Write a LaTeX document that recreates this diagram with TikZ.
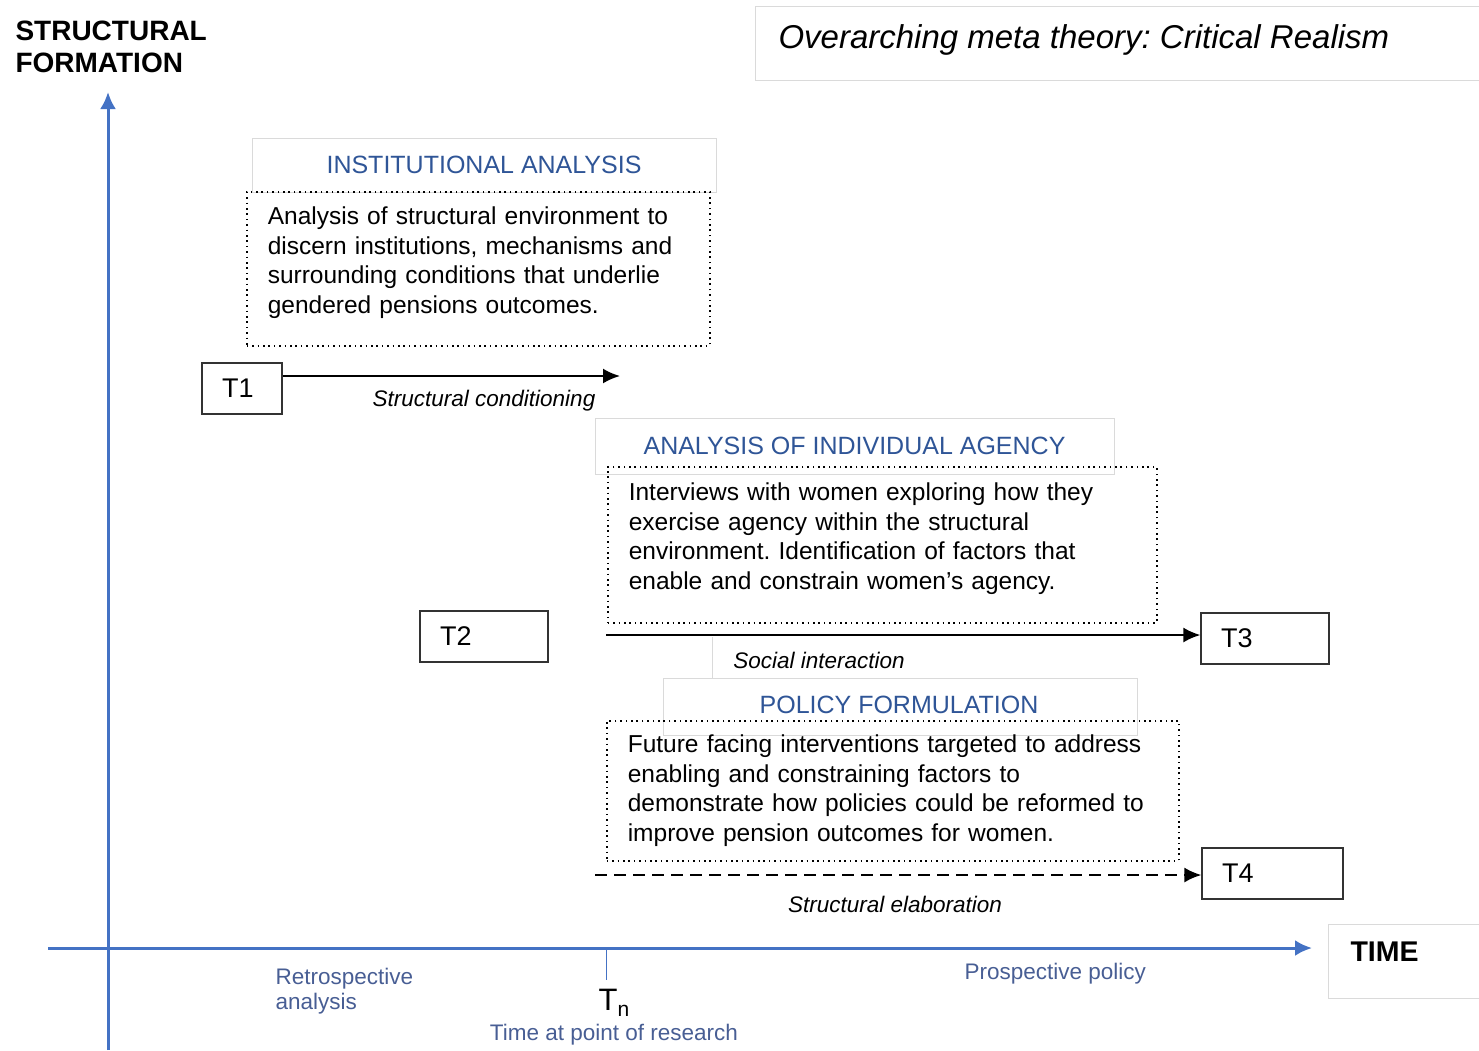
\documentclass[tikz,border=0pt]{standalone}
\usepackage{fontspec}
\setmainfont{Liberation Sans}
\usetikzlibrary{
  arrows.meta,
  positioning,
}
\tikzset{
  >={Latex[width=15pt,length=17pt]},
}
\definecolor{axisblue}{RGB}{68,114,196}
\definecolor{headblue}{RGB}{47,85,151}
\definecolor{noteblue}{RGB}{72,94,148}
\definecolor{faint}{RGB}{218,218,218}
\frenchspacing

\begin{document}
\begin{tikzpicture}[x=1pt, y=-1pt,
        headbox/.style={draw=faint, fill=white, text=headblue,
          font=\fontsize{25}{28}\selectfont},
        notebox/.style={draw, line width=1.6pt, dash pattern=on 1.6pt off 3.8pt,
          anchor=north west, align=left, inner xsep=21pt,
          font=\fontsize{24.5}{29.5}\selectfont},
        tbox/.style={draw=black!80, line width=1.2pt, align=left,
          inner xsep=20pt, minimum height=51pt, font=\fontsize{27}{30}\selectfont},
        lbl/.style={font=\fontsize{22.5}{26}\selectfont\itshape},
        flow/.style={->, line width=2.2pt},
        axis/.style={-{Latex[width=16pt,length=17pt]}, draw=axisblue, line width=3pt},
      ]
      \useasboundingbox (0,0) rectangle (1479,1050);

      \node[draw=faint, minimum width=760, minimum height=74, anchor=north west]
        (meta) at (755,6) {};
      \node[anchor=west, font=\fontsize{33}{38}\selectfont\itshape]
        (metatext) at (775,40) {Overarching meta theory: Critical Realism};

      \node[anchor=north west, align=left, font=\fontsize{28}{32}\selectfont\bfseries]
        (yname) at (12,17) {STRUCTURAL\\FORMATION};

      \coordinate (ybot) at (108,1050);
      \coordinate (ytop) at (108,92);
      \coordinate (xleft) at (48,948);
      \coordinate (xright) at (1312,948);
      \draw[axis] (ybot) -- (ytop);
      \draw[axis] (xleft) -- (xright);

      \node[draw=faint, minimum width=170, minimum height=74, anchor=north west]
        (timebox) at (1328,924) {};
      \node[anchor=west, font=\fontsize{28.5}{32}\selectfont\bfseries]
        (time) at (1347,952) {TIME};

      \node[headbox, minimum width=464, minimum height=54] (insthead) at (484,165)
        {INSTITUTIONAL ANALYSIS};
      \node[notebox, text width=421, minimum height=154] (instnote) at (246,191) {
        Analysis of structural environment to\\
        discern institutions, mechanisms and\\
        surrounding conditions that underlie\\
        gendered pensions outcomes.\par\kern12pt
      };

      \node[tbox, text width=40] (T1) at (242,388.5) {T1};
      \coordinate (c1) at (620,376);
      \draw[flow] ([yshift=12.5pt]T1.east) -- (c1);
      \node[lbl] (cond) at (484,401) {Structural conditioning};

      \node[headbox, minimum width=519, minimum height=56] (agenthead) at (854.5,446)
        {ANALYSIS OF INDIVIDUAL AGENCY};
      \node[notebox, text width=507, minimum height=156] (agentnote) at (607,466) {
        Interviews with women exploring how they\\
        exercise agency within the structural\\
        environment. Identification of factors that\\
        enable and constrain women’s agency.\par\kern12pt
      };

      \node[tbox, text width=88] (T2) at (484,636.5) {T2};
      \node[tbox, text width=88] (T3) at (1265,638.5) {T3};
      \coordinate (c2) at (606,635);
      \draw[flow] (c2) -- (c2 -| T3.west);

      \node[lbl, fill=white, minimum width=250, minimum height=41, anchor=north west]
        (social) at (712,637) {};
      \draw[faint] (social.north west) -- (social.south west);
      \node[lbl] (socialtext) at (819,660) {Social interaction};

      \node[headbox, minimum width=474, minimum height=57] (polhead) at (900,706.5)
        {};
      \node[text=headblue, font=\fontsize{25}{28}\selectfont] (poltext) at (899,705)
        {POLICY FORMULATION};
      \node[notebox, text width=530, minimum height=140] (polnote) at (606,720) {
        Future facing interventions targeted to address\\
        enabling and constraining factors to\\
        demonstrate how policies could be reformed to\\
        improve pension outcomes for women.
      };

      \node[tbox, text width=101] (T4) at (1272.5,873.5) {T4};
      \coordinate (c3) at (595,875);
      \draw[flow, dash pattern=on 12pt off 7pt] (c3) -- (c3 -| T4.west);
      \node[lbl] (elab) at (895,904) {Structural elaboration};

      \coordinate (tick) at (606,980);
      \draw[axisblue, line width=1pt] (606,948) -- (tick);
      \node[font=\fontsize{31}{32}\selectfont] (Tn) at (614,1003)
        {T\raisebox{-6pt}{\fontsize{21}{22}\selectfont n}};
      \node[text=noteblue, font=\fontsize{22.5}{26}\selectfont] (research) at (614,1035)
        {Time at point of research};
      \node[text=noteblue, anchor=west, align=left, font=\fontsize{22.5}{25}\selectfont]
        (retro) at (272,991) {Retrospective\\analysis};
      \node[text=noteblue, anchor=west, font=\fontsize{22.5}{26}\selectfont]
        (prosp) at (961,974) {Prospective policy};
    \end{tikzpicture}
\end{document}
